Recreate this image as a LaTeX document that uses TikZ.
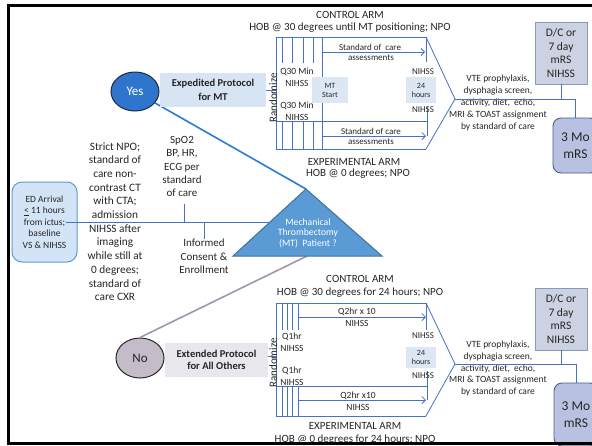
\documentclass[tikz,border=0pt]{standalone}
\usepackage{fontspec}
\setmainfont{Carlito}
\usetikzlibrary{arrows.meta,shapes.geometric}
\definecolor{lineblue}{HTML}{4472C4}
\definecolor{txtc}{HTML}{262626}
\definecolor{yesfill}{HTML}{2F75CB}
\definecolor{yesborder}{HTML}{1B2A45}
\definecolor{expfill}{HTML}{D6E4F4}
\definecolor{yesline}{HTML}{2E7BD6}
\definecolor{trifill}{HTML}{5B9BD5}
\definecolor{triborder}{HTML}{41719C}
\definecolor{nofill}{HTML}{C4BDC9}
\definecolor{noborder}{HTML}{2B2B2B}
\definecolor{noline}{HTML}{A395AB}
\definecolor{extfill}{HTML}{E8E7EB}
\definecolor{edfill}{HTML}{D3E4F6}
\definecolor{edborder}{HTML}{5B9BD5}
\definecolor{mtfill}{HTML}{DDE7F3}
\definecolor{dcfill}{HTML}{CDD2E2}
\definecolor{dcborder}{HTML}{8A99B8}
\definecolor{mofill}{HTML}{B8C1E1}
\definecolor{moborder}{HTML}{4C5C8C}
\newcommand{\myfs}[2]{\fontsize{#1}{#2}\selectfont}
\begin{document}
\begin{tikzpicture}[x=1pt,y=-1pt,
  txt/.style={inner sep=0pt, align=center, text=txtc},
  ln/.style={draw=lineblue, line width=0.8pt},
  arr/.style={ln, -{Straight Barb[length=3.5pt,width=7pt]}},
  smallbox/.style={fill=mtfill, inner sep=0pt, align=center, text=txtc, font=\myfs{8}{9}},
  dcbox/.style={draw=dcborder, fill=dcfill, line width=0.8pt, minimum width=52pt, minimum height=62pt, inner sep=0pt, align=center, text=txtc, font=\myfs{11.5}{13.7}},
  mobox/.style={draw=moborder, fill=mofill, line width=0.9pt, rounded corners=8pt, inner sep=0pt, align=center, text=txtc, font=\myfs{13.5}{16.5}},
  vte/.style={txt, font=\myfs{9.5}{11.8}},
  arm/.style={txt, font=\myfs{11}{13}},
  tiny/.style={txt, font=\myfs{9.5}{11.5}},
  sm/.style={txt, font=\myfs{9}{11}}
]
\useasboundingbox (0,0) rectangle (592,445);
\fill[white] (0,0) rectangle (592,445);

% ---------------- top section ----------------
\node[arm] (ctrlA) at (350,15) {CONTROL ARM};
\node[arm] (hobA) at (350,28) {HOB @ 30 degrees until MT positioning; NPO};
\node[arm] (expA) at (354,162) {EXPERIMENTAL ARM};
\node[arm] (hobB) at (358,174) {HOB @ 0 degrees; NPO};

\coordinate (randA) at (276,91);
\coordinate (tipA) at (455,99);
\draw[ln] (426,62) -- (426,37) -- (276,37) -- (276,149) -- (426,149);
\draw[ln] (276,121) -- (427,121);
\draw[ln] (427,107) -- (427,136);
\draw[ln] (426,37) -- (tipA) -- (426,149);
\foreach \x in {282,292,303,313} {
  \draw[ln] (\x,37) -- (\x,63);
  \draw[ln] (\x,121) -- (\x,149);
}
\node[smallbox, minimum width=36pt, minimum height=26pt] (mt) at (330,90) {MT\\Start};
\draw[ln] (322,37) -- (322,77);
\draw[ln] (322,103) -- (322,149);
\draw[arr] (322,52) -- (425,52);
\draw[arr] (322,136) -- (426,136);
\node[sm] (socA1) at (370,47) {Standard of\ \ care};
\node[sm] (socA2) at (371,58) {assessments};
\node[sm] (socA3) at (371,131) {Standard of care};
\node[sm] (socA4) at (371,142) {assessments};
\node[tiny] (q30a) at (297,77.5) {Q30 Min\\NIHSS};
\node[tiny] (q30b) at (297,111.5) {Q30 Min\\NIHSS};
\node[smallbox, minimum width=30pt, minimum height=26pt] (hrsA) at (421,90) {24\\hours};
\node[sm] (nihA1) at (423,72) {NIHSS};
\node[sm] (nihA2) at (423,110) {NIHSS};
\node[txt, rotate=90, font=\myfs{11}{13}] (rndA) at (273,98) {Randomize};
\node[vte] (vteA) at (498,103) {VTE prophylaxis,\\dysphagia screen,\\activity, diet,\ \ echo,\\MRI \& TOAST assignment\\by standard of care};
\node[dcbox] (dcA) at (561,53) {D/C or\\7 day\\mRS\\NIHSS};
\node[mobox, minimum width=45pt, minimum height=55pt] (moA) at (575.5,145.5) {3 Mo\\mRS};
\draw[ln] (tipA) -- (tipA -| moA.north) -- (moA.north);
\draw[ln] (dcA.south) -- (dcA.south |- tipA);

% ---------------- bottom section ----------------
\node[arm] (ctrlB) at (360,279) {CONTROL ARM};
\node[arm] (hobC) at (360,293) {HOB @ 30 degrees for 24 hours; NPO};
\node[arm] (expB) at (355,426) {EXPERIMENTAL ARM};
\node[arm] (hobD) at (355,440) {HOB @ 0 degrees for 24 hours; NPO};

\coordinate (randB) at (276,356);
\coordinate (tipB) at (455,364);
\draw[ln] (426,330) -- (426,303) -- (276,303) -- (276,416) -- (426,416);
\draw[ln] (276,386) -- (427,386);
\draw[ln] (427,371) -- (427,400);
\draw[ln] (426,303) -- (tipB) -- (426,416);
\foreach \x in {282,287,292,298} {
  \draw[ln] (\x,303) -- (\x,330);
  \draw[ln] (\x,386) -- (\x,416);
}
\draw[arr] (298,317) -- (426,317);
\draw[arr] (298,400) -- (426,400);
\node[tiny] (q2a1) at (357,312) {Q2hr x 10};
\node[tiny] (q2a2) at (357,323) {NIHSS};
\node[tiny] (q2b1) at (358,396) {Q2hr x10};
\node[tiny] (q2b2) at (358,407) {NIHSS};
\node[tiny] (q1a) at (292,342) {Q1hr\\NIHSS};
\node[tiny] (q1b) at (292,376) {Q1hr\\NIHSS};
\node[sm] (nihB1) at (423,336) {NIHSS};
\node[sm] (nihB2) at (423,376) {NIHSS};
\node[smallbox, minimum width=30pt, minimum height=21pt, font=\myfs{8}{8.5}] (hrsB) at (421,357.5) {24\\hours};
\node[txt, rotate=90, font=\myfs{11}{13}] (rndB) at (273,363) {Randomize};
\node[vte] (vteB) at (498,368.5) {VTE prophylaxis,\\dysphagia screen,\\activity, diet,\ \ echo,\\MRI \& TOAST assignment\\by standard of care};
\node[dcbox] (dcB) at (561,319) {D/C or\\7 day\\mRS\\NIHSS};
\node[mobox, minimum width=44pt, minimum height=63pt] (moB) at (576,414.5) {3 Mo\\mRS};
\draw[ln] (tipB) -- (tipB -| moB.north) -- (moB.north);
\draw[ln] (dcB.south) -- (dcB.south |- tipB);

% ---------------- left part ----------------
\coordinate (apex) at (306,189);
\coordinate (bl) at (233,256);
\coordinate (br) at (382,256);
\coordinate (basec) at (307,256);
\coordinate (trileft) at (270,222);

\node[ellipse, draw=yesborder, fill=yesfill, line width=1pt, minimum width=48pt, minimum height=39pt, inner sep=0pt, text=white, font=\myfs{13}{15}] (yes) at (135,91.5) {Yes};
\node[ellipse, draw=noborder, fill=nofill, line width=1pt, minimum width=48pt, minimum height=40pt, inner sep=0pt, text=txtc, font=\myfs{13}{15}] (no) at (140,358) {No};
\draw[yesline, line width=1.6pt] (yes) -- (apex);
\draw[noline, line width=1.6pt] (no.north) -- (basec);
\draw[fill=trifill, draw=triborder, line width=1pt] (apex) -- (br) -- (bl) -- cycle;
\node[txt, text=white, font=\myfs{9.7}{10.5}] (mtq) at (308,233) {Mechanical\\Thrombectomy\\(MT)\ \ Patient ?};

\node[fill=expfill, minimum width=106pt, minimum height=34pt, inner sep=0pt, align=center, text=txtc, font=\bfseries\myfs{10.5}{13.5}] (exped) at (213,90) {Expedited Protocol\\for MT};
\draw[ln] (exped.east) -- (exped.east -| randA);
\node[fill=extfill, minimum width=103pt, minimum height=34pt, inner sep=0pt, align=center, text=txtc, font=\bfseries\myfs{10.5}{12}] (ext) at (216.5,360) {Extended Protocol\\for All Others};
\draw[ln] ([yshift=4pt]ext.east) -- ([yshift=4pt]ext.east -| randB);

\node[draw=edborder, fill=edfill, rounded corners=10pt, line width=1pt, minimum width=65pt, minimum height=80pt, inner sep=0pt, align=center, text=txtc, font=\myfs{9.5}{11.5}] (ed) at (44.5,222) {ED Arrival\\\underline{<} 11 hours\\from ictus;\\baseline\\VS \& NIHSS};
\draw[ln] ([xshift=-12pt]ed.east) -- (trileft);

\node[txt, font=\myfs{11.3}{13.7}] (npo) at (115,221.5) {Strict NPO;\\standard of\\care non-\\contrast CT\\with CTA;\\admission\\NIHSS after\\imaging\\while still at\\0 degrees;\\standard of\\care CXR};
\node[txt, font=\myfs{11}{13.25}] (spo) at (182,166.5) {SpO2\\BP, HR,\\ECG per\\standard\\of care};
\draw[ln] ([xshift=2pt,yshift=-7pt]spo.south) -- ([xshift=2pt]spo.south |- trileft);
\node[txt, font=\myfs{11}{13.5}] (inf) at (204,256.5) {Informed\\Consent \&\\Enrollment};
\draw[ln] (inf.north |- trileft) -- (inf.north);

% frame
\draw[black, line width=3pt] (8.5,5) rectangle (610,443);
\end{tikzpicture}
\end{document}
